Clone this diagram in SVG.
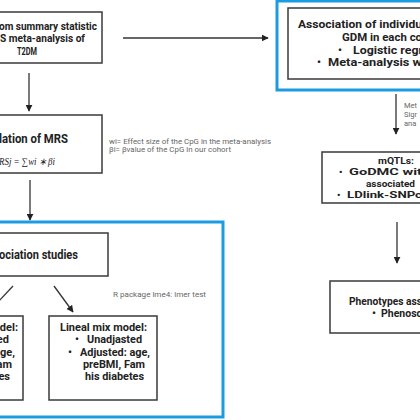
<svg xmlns="http://www.w3.org/2000/svg" width="420" height="420" viewBox="0 0 420 420">
<defs>
<marker id="ah" viewBox="0 0 10 10" refX="9" refY="5" markerWidth="7" markerHeight="7" markerUnits="userSpaceOnUse" orient="auto"><path d="M0,0 L10,5 L0,10 z" fill="#222"/></marker>
<style>
.box{fill:#fff;stroke:#3a3a3a;stroke-width:1.5}
.blue{fill:none;stroke:#1a9be2;stroke-width:3}
.t{font-family:Roboto,"Liberation Sans",sans-serif;font-weight:bold;font-size:11px;fill:#222}
.ts{font-family:Roboto,"Liberation Sans",sans-serif;font-weight:bold;font-size:9.5px;fill:#222}
.tl{font-family:Roboto,"Liberation Sans",sans-serif;font-weight:bold;font-size:13px;fill:#222}
.n{font-family:Roboto,"Liberation Sans",sans-serif;font-size:7.5px;fill:#666}
.m{font-family:"Liberation Serif",serif;font-style:italic;font-size:10px;fill:#222}
.c{stroke:#333;stroke-width:1.3;fill:none}
</style>
</defs>
<rect width="420" height="420" fill="#fff"/>
<g id="blue-left"><rect class="blue" x="-10" y="222" width="233" height="195"/></g>
<g id="blue-right"><rect class="blue" x="277" y="1" width="160" height="89"/></g>
<g id="connectors">
<line class="c" x1="123" y1="38" x2="268" y2="38" marker-end="url(#ah)"/>
<line class="c" x1="29" y1="73" x2="29" y2="111" marker-end="url(#ah)"/>
<line class="c" x1="30" y1="180" x2="30" y2="220" marker-end="url(#ah)"/>
<line class="c" x1="13" y1="286" x2="-2" y2="302"/>
<line class="c" x1="54" y1="286" x2="73" y2="312" marker-end="url(#ah)"/>
<line class="c" x1="396" y1="94" x2="396" y2="134" marker-end="url(#ah)"/>
<line class="c" x1="397" y1="222" x2="397" y2="263" marker-end="url(#ah)"/>
</g>
<g id="node-summary">
<rect class="box" x="-10" y="12" width="112" height="51"/>
<text class="t"><tspan x="-1" y="30" textLength="98" lengthAdjust="spacingAndGlyphs">om summary statistic</tspan></text>
<text class="t"><tspan x="0" y="42" textLength="85" lengthAdjust="spacingAndGlyphs">S meta-analysis of</tspan></text>
<text class="t"><tspan x="17" y="55" textLength="20" lengthAdjust="spacingAndGlyphs">T2DM</tspan></text>
</g>
<g id="node-mrs">
<rect class="box" x="-10" y="115" width="112" height="58"/>
<text class="tl" x="-1" y="143" textLength="69" lengthAdjust="spacingAndGlyphs">lation of MRS</text>
<text class="m" x="-1" y="165" textLength="56" lengthAdjust="spacingAndGlyphs">RSj = ∑wi ∗ βi</text>
</g>
<g id="note-mrs">
<text class="n" x="109" y="144" textLength="162" lengthAdjust="spacingAndGlyphs">wi= Effect size of the CpG in the meta-analysis</text>
<text class="n" x="109" y="152" textLength="122" lengthAdjust="spacingAndGlyphs">βi= βvalue of the CpG in our cohort</text>
</g>
<g id="node-assoc">
<rect class="box" x="-10" y="233" width="118" height="43"/>
<text class="tl" x="-1" y="259" textLength="79" lengthAdjust="spacingAndGlyphs">ociation studies</text>
</g>
<g id="note-r"><text class="n" x="113" y="297" textLength="93" lengthAdjust="spacingAndGlyphs">R package lme4:  lmer test</text></g>
<g id="node-left-model">
<rect class="box" x="-10" y="316" width="33" height="84"/>
<text class="t" text-anchor="end"><tspan x="18" y="331">del:</tspan><tspan x="9" y="343">ed</tspan><tspan x="15" y="356">ge,</tspan><tspan x="12" y="368">am</tspan><tspan x="10" y="380">es</tspan></text>
</g>
<g id="node-lineal">
<rect class="box" x="49" y="316" width="108" height="84"/>
<text class="t" x="60" y="331" textLength="87" lengthAdjust="spacingAndGlyphs">Lineal mix model:</text>
<text class="t" x="75" y="343">•</text><text class="t" x="87" y="343" textLength="55" lengthAdjust="spacingAndGlyphs">Unadjasted</text>
<text class="t" x="68" y="356">•</text><text class="t" x="80" y="356" textLength="70" lengthAdjust="spacingAndGlyphs">Adjusted: age,</text>
<text class="t" x="83" y="368" textLength="62" lengthAdjust="spacingAndGlyphs">preBMI, Fam</text>
<text class="t" x="85" y="380" textLength="59" lengthAdjust="spacingAndGlyphs">his diabetes</text>
</g>
<g id="node-association-gdm">
<rect class="box" x="288" y="8" width="150" height="71"/>
<text class="t" x="298" y="28" textLength="124" lengthAdjust="spacingAndGlyphs">Association of individu</text>
<text class="t" x="342" y="41" textLength="80" lengthAdjust="spacingAndGlyphs">GDM in each co</text>
<text class="t" x="338" y="54">•</text><text class="t" x="353" y="54" textLength="70" lengthAdjust="spacingAndGlyphs">Logistic regr</text>
<text class="t" x="317" y="66">•</text><text class="t" x="328" y="66" textLength="94" lengthAdjust="spacingAndGlyphs">Meta-analysis w</text>
</g>
<g id="note-meta"><text class="n"><tspan x="404" y="108">Met</tspan><tspan x="404" y="117">Sigr</tspan><tspan x="404" y="126">ana</tspan></text></g>
<g id="node-mqtl">
<rect class="box" x="322" y="152" width="110" height="51"/>
<text class="ts" x="378" y="164" textLength="36" lengthAdjust="spacingAndGlyphs">mQTLs:</text>
<text class="ts" x="339" y="175">•</text><text class="ts" x="349" y="175" textLength="73" lengthAdjust="spacingAndGlyphs">GoDMC wit</text>
<text class="ts" x="366" y="187" textLength="49" lengthAdjust="spacingAndGlyphs">associated</text>
<text class="ts" x="337" y="198">•</text><text class="ts" x="347" y="198" textLength="75" lengthAdjust="spacingAndGlyphs">LDlink-SNPc</text>
</g>
<g id="node-pheno">
<rect class="box" x="330" y="281" width="100" height="52"/>
<text class="t" x="349" y="305" textLength="73" lengthAdjust="spacingAndGlyphs">Phenotypes ass</text>
<text class="t" x="372" y="317">•</text><text class="t" x="381" y="317" textLength="41" lengthAdjust="spacingAndGlyphs">Phenosc</text>
</g>
</svg>
